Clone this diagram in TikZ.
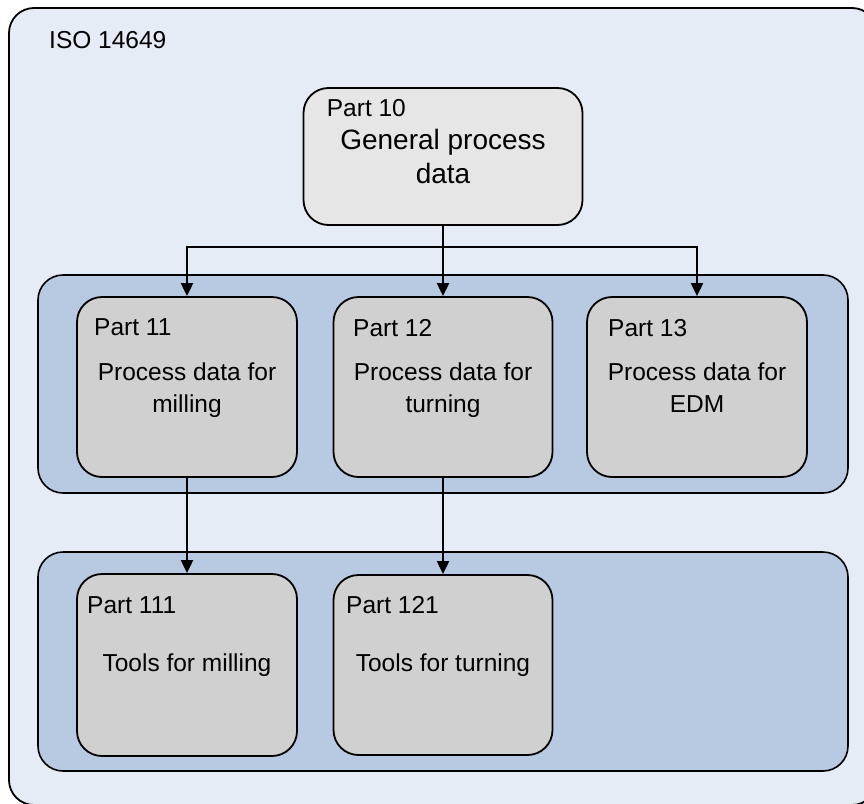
\documentclass[tikz,border=0pt]{standalone}
\usepackage{fontspec}
\setmainfont{Liberation Sans}
\usetikzlibrary{arrows.meta}
\definecolor{outerfill}{HTML}{E6ECF6}
\definecolor{groupfill}{HTML}{B8C9E2}
\definecolor{partfill}{HTML}{D0D0D0}
\definecolor{topfill}{HTML}{E6E6E6}
\begin{document}
\begin{tikzpicture}[x=1pt,y=-1pt,
  outerbox/.style={draw=black, line width=1.8pt, fill=outerfill, rounded corners=25pt},
  groupbox/.style={draw=black, line width=1.6pt, fill=groupfill, rounded corners=25pt},
  partbox/.style={draw=black, line width=1.8pt, fill=partfill, rounded corners=25pt, rectangle, inner sep=0pt},
  topbox/.style={partbox, fill=topfill},
  lbl/.style={inner sep=0pt, font=\fontsize{24.5}{31.7}\selectfont, anchor=west},
  body/.style={inner sep=0pt, font=\fontsize{24.5}{31.7}\selectfont, align=center},
  conn/.style={line width=2pt},
  arr/.style={conn, -{Triangle[length=13pt,width=12pt]}}]
\clip (0,0) rectangle (864,803);
\useasboundingbox (0,0) rectangle (864,803);
\fill[white] (0,0) rectangle (864,803);
% outer frame
\draw[outerbox] (9,8) rectangle (877,805);
\node[lbl] (iso) at (49,40.5) {ISO 14649};
% group containers
\draw[groupbox] (38,275) rectangle (848,493);
\draw[groupbox] (38,552) rectangle (848,771);
% part 10
\node[topbox, minimum width=279pt, minimum height=137pt] (p10) at (443,156.5) {};
\node[lbl] (p10l) at (326.7,108) {Part 10};
\node[body, anchor=north, font=\fontsize{28}{33.5}\selectfont] (p10t) at (443,129.5) {General process\\data};
% middle row
\node[partbox, minimum width=220pt, minimum height=180pt] (p11) at (187,387) {};
\node[partbox, minimum width=219pt, minimum height=180pt] (p12) at (443,387) {};
\node[partbox, minimum width=220pt, minimum height=180pt] (p13) at (697,387) {};
\node[lbl] (p11l) at (94,327) {Part 11};
\node[lbl] (p12l) at (353,328) {Part 12};
\node[lbl] (p13l) at (608,328) {Part 13};
\node[body, anchor=north] (p11t) at (187,362.5) {Process data for\\milling};
\node[body, anchor=north] (p12t) at (443,362.5) {Process data for\\turning};
\node[body, anchor=north] (p13t) at (697,362.5) {Process data for\\EDM};
% bottom row
\node[partbox, minimum width=220pt, minimum height=182pt] (p111) at (187,665) {};
\node[partbox, minimum width=219pt, minimum height=180pt] (p121) at (443,665) {};
\node[lbl] (p111l) at (87,605) {Part 111};
\node[lbl] (p121l) at (346,605) {Part 121};
\node[body, anchor=base] (p111t) at (187,671.7) {Tools for milling};
\node[body, anchor=base] (p121t) at (443,671.7) {Tools for turning};
% connectors
\coordinate (j) at (443,247);
\draw[conn] (p10.south) -- (j);
\draw[arr] (j) -| (p11.north);
\draw[arr] (j) -- (p12.north);
\draw[arr] (j) -| (p13.north);
\draw[arr] (p11.south) -- (p111.north);
\draw[arr] (p12.south) -- (p121.north);
\end{tikzpicture}
\end{document}
